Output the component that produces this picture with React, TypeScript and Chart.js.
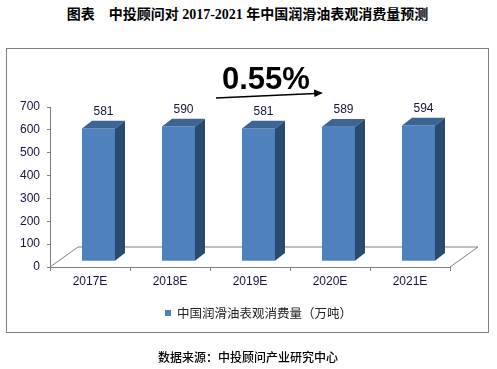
import React, { useEffect, useRef } from "react";
import { Chart, registerables } from "chart.js";

Chart.register(...registerables);

const TITLE = "图表　中投顾问对 2017-2021 年中国润滑油表观消费量预测";
const SOURCE = "数据来源：中投顾问产业研究中心";
const SERIES_LABEL = "中国润滑油表观消费量（万吨）";
const GROWTH_LABEL = "0.55%";
const CATEGORIES = ["2017E", "2018E", "2019E", "2020E", "2021E"];
const CONSUMPTION = [581, 590, 581, 589, 594];
const Y_MIN = 0;
const Y_MAX = 700;
const Y_STEP = 100;

const FRONT = "#4F81BD";
const TOP = "#3C6494";
const SIDE = "#2A4A72";
const TEXT = "#14143c";
const AXIS = "#808080";

// 3D geometry
const FLOOR_DX = 28;
const FLOOR_DY = -20;
const SHIFT_X = 8.5;
const SHIFT_Y = -5.7;
const BAR_DX = 10;
const BAR_DY = -7.7;

const threeD = {
  id: "threeD",
  beforeDatasetsDraw(chart: any) {
    const { ctx, chartArea: a, scales } = chart;
    const y0 = scales.y.getPixelForValue(0);
    ctx.save();
    ctx.strokeStyle = AXIS;
    ctx.lineWidth = 1;
    ctx.beginPath();
    ctx.moveTo(a.left, y0);
    ctx.lineTo(a.left + FLOOR_DX, y0 + FLOOR_DY);
    ctx.lineTo(a.right + FLOOR_DX, y0 + FLOOR_DY);
    ctx.lineTo(a.right, y0);
    ctx.stroke();
    ctx.restore();
    ctx.save();
    ctx.translate(SHIFT_X, SHIFT_Y);
  },
  afterDatasetsDraw(chart: any) {
    const { ctx } = chart;
    ctx.restore();
    const meta = chart.getDatasetMeta(0);
    const data = chart.data.datasets[0].data;
    meta.data.forEach((bar: any, i: number) => {
      const p = bar.getProps(["x", "y", "base", "width"], true);
      const xl = p.x - p.width / 2 + SHIFT_X;
      const xr = p.x + p.width / 2 + SHIFT_X;
      const yt = p.y + SHIFT_Y;
      const yb = p.base + SHIFT_Y;
      // top face
      ctx.fillStyle = TOP;
      ctx.beginPath();
      ctx.moveTo(xl, yt);
      ctx.lineTo(xr, yt);
      ctx.lineTo(xr + BAR_DX, yt + BAR_DY);
      ctx.lineTo(xl + BAR_DX, yt + BAR_DY);
      ctx.closePath();
      ctx.fill();
      // side face
      ctx.fillStyle = SIDE;
      ctx.beginPath();
      ctx.moveTo(xr, yt);
      ctx.lineTo(xr + BAR_DX, yt + BAR_DY);
      ctx.lineTo(xr + BAR_DX, yb + BAR_DY);
      ctx.lineTo(xr, yb);
      ctx.closePath();
      ctx.fill();
      // value label
      ctx.fillStyle = TEXT;
      ctx.font = "12px 'Liberation Sans', Arial, sans-serif";
      ctx.textAlign = "center";
      ctx.textBaseline = "middle";
      ctx.fillText(String(data[i]), (xl + xr) / 2 + BAR_DX / 2, yt + BAR_DY - 9.5);
    });
  },
  afterDraw(chart: any) {
    const { ctx } = chart;
    // growth annotation
    ctx.save();
    ctx.fillStyle = "#000";
    ctx.font = "bold 31px 'Liberation Sans', Arial, sans-serif";
    ctx.textAlign = "left";
    ctx.textBaseline = "alphabetic";
    ctx.fillText(GROWTH_LABEL, 222, 89);
    ctx.strokeStyle = "#000";
    ctx.lineWidth = 1.5;
    ctx.beginPath();
    ctx.moveTo(216, 98);
    ctx.lineTo(315, 93.4);
    ctx.stroke();
    ctx.beginPath();
    ctx.moveTo(323, 93);
    ctx.lineTo(314, 89.6);
    ctx.lineTo(314.4, 97);
    ctx.closePath();
    ctx.fill();
    // legend
    const ds = chart.data.datasets[0];
    ctx.fillStyle = ds.backgroundColor;
    ctx.fillRect(165, 310, 6, 6);
    ctx.fillStyle = "#222";
    ctx.font = "12.5px 'Noto Sans CJK SC', sans-serif";
    ctx.textBaseline = "middle";
    ctx.fillText(ds.label, 177, 313.5);
    ctx.restore();
  },
};

export default function App() {
  const ref = useRef<HTMLCanvasElement | null>(null);
  useEffect(() => {
    if (!ref.current) return;
    const chart = new Chart(ref.current, {
      type: "bar",
      data: {
        labels: CATEGORIES,
        datasets: [
          {
            label: SERIES_LABEL,
            data: CONSUMPTION,
            backgroundColor: FRONT,
            borderWidth: 0,
            barPercentage: 0.4125,
            categoryPercentage: 1,
          },
        ],
      },
      options: {
        responsive: false,
        animation: false,
        devicePixelRatio: 1,
        layout: { padding: { left: 0, right: 47, top: 107, bottom: 72 } },
        plugins: {
          legend: { display: false },
          tooltip: { enabled: false },
          title: { display: false },
        },
        font: { family: "'Liberation Sans', Arial, sans-serif" },
        scales: {
          x: {
            afterFit: (s: any) => {
              s.height = 30;
            },
            grid: {
              offset: true,
              drawOnChartArea: false,
              drawTicks: true,
              tickLength: 4,
              color: AXIS,
            },
            border: { display: true, color: AXIS },
            ticks: {
              color: TEXT,
              padding: 3,
              font: { size: 12, family: "'Liberation Sans', Arial, sans-serif" },
            },
          },
          y: {
            min: Y_MIN,
            max: Y_MAX,
            afterFit: (s: any) => {
              s.width = 50;
            },
            grid: {
              drawOnChartArea: false,
              drawTicks: true,
              tickLength: 3,
              color: AXIS,
            },
            border: { display: true, color: AXIS },
            ticks: {
              stepSize: Y_STEP,
              color: TEXT,
              padding: 7,
              font: { size: 12, family: "'Liberation Sans', Arial, sans-serif" },
            },
          },
        },
      } as any,
      plugins: [threeD],
    });
    return () => chart.destroy();
  }, []);

  return (
    <div
      style={{
        position: "fixed",
        left: 0,
        top: 0,
        width: 497,
        height: 369,
        background: "#fff",
        overflow: "hidden",
      }}
    >
      <div
        style={{
          position: "absolute",
          left: 0,
          top: 6,
          width: 495,
          textAlign: "center",
          font: "bold 14px 'Liberation Serif', 'Noto Sans CJK SC', serif",
          color: "#000",
          lineHeight: "18px",
          whiteSpace: "pre",
        }}
      >
        {TITLE}
      </div>
      <div
        style={{
          position: "absolute",
          left: 6,
          top: 48,
          width: 483,
          height: 285,
          border: "1px solid #808080",
          boxSizing: "border-box",
        }}
      />
      <canvas
        ref={ref}
        width={497}
        height={369}
        style={{ position: "absolute", left: 0, top: 0, width: 497, height: 369 }}
      />
      <div
        style={{
          position: "absolute",
          left: 0,
          top: 348,
          width: 496,
          textAlign: "center",
          font: "500 12px 'Noto Sans CJK SC', sans-serif",
          color: "#000",
          lineHeight: "18px",
        }}
      >
        {SOURCE}
      </div>
    </div>
  );
}
